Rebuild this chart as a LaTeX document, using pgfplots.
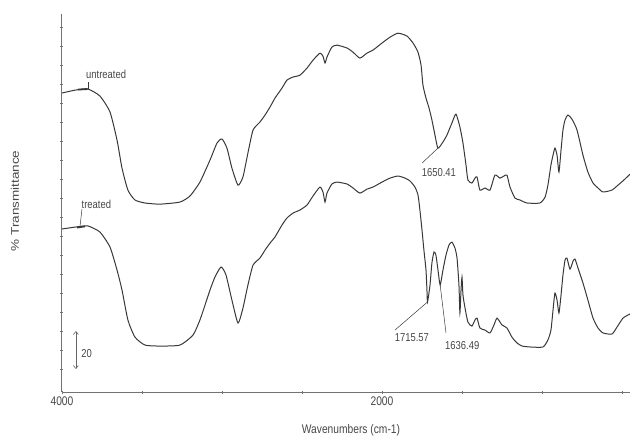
\documentclass[border=0pt]{standalone}
\usepackage{fontspec}
\setmainfont{Liberation Sans}
\usepackage{pgfplots}
\pgfplotsset{compat=1.18}
\usetikzlibrary{arrows.meta}
% narrow sans text, as set by the spectrometer software
\newcommand{\sq}[1]{\scalebox{0.82}[1]{#1}}
\newcommand{\ann}[1]{{\fontsize{11.5}{13}\selectfont\sq{#1}}}
\colorlet{txt}{black!72}
\colorlet{spec}{black!78}
\begin{document}
\begin{tikzpicture}
\path[use as bounding box] (0pt,0pt) rectangle (630pt,437pt);
\begin{axis}[
  at={(62pt,45pt)}, anchor=south west,
  scale only axis, width=568pt, height=378pt,
  xmin=450, xmax=4000, x dir=reverse,
  ymin=0, ymax=199,
  axis x line*=bottom, axis y line*=left,
  axis line style={black!55, line width=1pt},
  xtick={4000,3500,3000,2500,2000,1500,1000,500},
  xticklabels={\sq{4000},,,,\sq{2000},,,},
  ytick={12,22,...,192}, yticklabels={},
  tick align=center, major tick length=3pt,
  tick style={black!55, line width=0.6pt},
  ticklabel style={font=\fontsize{12.5}{14}\selectfont, text=txt},
  clip=false,
]
% untreated sample
\addplot[spec, line width=1pt, smooth, tension=0.35] coordinates {
(4000,157.4) (3919,158.9) (3838,159.5) (3763,155.8) (3700,147.4) (3656,132.6)
(3625,117.9) (3588,106.3) (3544,101.1) (3481,99.5) (3388,98.9) (3263,100.0)
(3200,103.2) (3138,110.5) (3075,122.1) (3031,131.1) (3000,133.2) (2969,128.4)
(2938,117.9) (2900,108.9) (2869,113.2) (2838,125.8) (2806,137.9) (2763,142.1)
(2731,145.8) (2700,150.0) (2669,154.7) (2625,160.0) (2594,164.2) (2556,165.8)
(2513,166.8) (2469,170.5) (2431,174.7) (2388,178.4) (2369,176.8) (2356,173.2)
(2344,176.3) (2313,181.6) (2281,182.6) (2219,181.1) (2181,178.9) (2138,175.8)
(2094,178.4) (2056,180.0) (2000,183.7) (1950,186.8) (1900,188.9) (1844,187.4)
(1806,183.7) (1775,178.9) (1756,172.1) (1744,161.6) (1725,154.7) (1706,149.5)
(1688,143.2) (1669,135.3) (1650.41,128.4) (1619,131.6) (1594,135.3) (1563,141.6)
(1538,146.3) (1513,139.5) (1494,131.1) (1475,119.5) (1463,111.6) (1438,110.0)
(1419,112.6) (1406,113.2) (1388,106.3) (1356,107.4) (1325,106.3) (1294,114.2)
(1263,112.6) (1238,113.7) (1219,114.2) (1200,107.9) (1169,102.1) (1138,101.1)
(1094,99.5) (1013,99.5) (981,102.6) (963,108.9) (944,119.5) (931,124.7)
(919,128.4) (906,124.7) (894,115.8) (881,127.4) (869,137.9) (856,143.2)
(838,145.8) (813,143.7) (781,137.9) (744,124.7) (713,115.8) (681,110.0)
(650,107.4) (619,105.3) (563,106.3) (525,108.9) (488,111.6) (450,114.7)
};
% treated sample
\addplot[spec, line width=1pt, smooth, tension=0.35] coordinates {
(4000,85.8) (3919,86.8) (3838,87.4) (3763,84.2) (3700,76.3) (3656,64.2)
(3625,53.7) (3588,37.9) (3544,28.9) (3481,24.7) (3388,24.2) (3263,24.7)
(3181,30.0) (3138,37.9) (3106,45.8) (3075,53.7) (3044,60.5) (3006,65.8)
(2975,61.6) (2938,48.4) (2900,36.3) (2869,44.2) (2838,56.3) (2806,66.8)
(2763,70.5) (2731,74.7) (2700,78.4) (2669,81.6) (2625,87.9) (2594,91.6)
(2556,94.2) (2513,95.8) (2469,98.4) (2431,103.2) (2388,107.9) (2369,105.3)
(2356,100.0) (2344,104.7) (2313,109.5) (2281,110.5) (2219,109.5) (2181,107.4)
(2138,104.7) (2094,106.8) (2056,107.9) (2000,110.5) (1950,112.6) (1900,113.7)
(1856,112.6) (1825,111.1) (1794,107.9) (1775,103.7) (1763,95.8) (1750,85.3)
(1738,74.7) (1725,64.2) (1719,53.7) (1715.57,47.4) (1700,56.3) (1688,67.9)
(1675,73.7) (1663,72.1) (1650,64.2) (1636.49,56.3) (1619,64.2) (1600,72.1)
(1581,77.4) (1563,78.9) (1544,75.8) (1531,70.5) (1519,56.3) (1513,41.6)
(1506,53.7) (1500,60.5) (1494,51.1) (1481,44.2) (1463,36.8) (1438,34.7)
(1419,37.9) (1406,38.9) (1388,33.7) (1356,32.6) (1325,31.1) (1300,35.3)
(1281,38.9) (1250,35.3) (1219,33.7) (1188,28.9) (1156,25.8) (1125,24.2)
(1075,23.7) (994,23.7) (963,27.4) (944,32.6) (931,43.2) (919,52.1)
(906,48.4) (894,41.6) (881,51.1) (869,61.6) (856,69.5) (844,70.5)
(825,64.7) (806,68.9) (794,70.0) (775,65.3) (744,57.4) (713,48.4)
(681,38.9) (650,33.7) (619,31.1) (563,30.5) (531,34.2) (494,38.9)
(463,40.5) (450,41.1)
};
% curve labels
\draw[spec, line width=0.5pt] (axis cs:3838,163.2) -- (axis cs:3838,159.5);
\draw[spec, line width=1.8pt] (axis cs:3900,159.2) -- (axis cs:3840,159.5);
\node[anchor=west, text=txt, inner sep=0pt] at (axis cs:3850,167) {\ann{untreated}};
\draw[spec, line width=0.5pt] (axis cs:3875,96.3) -- (axis cs:3888,86.8);
\draw[spec, line width=1.8pt] (axis cs:3906,86.6) -- (axis cs:3856,87.2);
\node[anchor=west, text=txt, inner sep=0pt] at (axis cs:3878,99) {\ann{treated}};
% peak picks
\draw[spec, line width=0.5pt] (axis cs:1750,120.5) -- (axis cs:1650.41,128.4);
\node[anchor=west, text=txt, inner sep=0pt] at (axis cs:1752,115.3) {\ann{1650.41}};
\draw[spec, line width=0.5pt] (axis cs:1919,32.6) -- (axis cs:1715.57,47.4);
\node[anchor=west, text=txt, inner sep=0pt] at (axis cs:1921,28.4) {\ann{1715.57}};
\draw[spec, line width=0.5pt] (axis cs:1600,31.1) -- (axis cs:1636.49,56.3);
\node[anchor=west, text=txt, inner sep=0pt] at (axis cs:1606,24.7) {\ann{1636.49}};
% scale bar: 20 %T
\draw[black!60, line width=0.6pt, {Straight Barb[length=3pt,width=5pt]}-{Straight Barb[length=3pt,width=5pt]}]
  (axis cs:3913,12.1) -- (axis cs:3913,32.1);
\node[anchor=west, text=txt, inner sep=0pt] at (axis cs:3880,20.5) {\ann{20}};
\end{axis}
\node[text=txt] at (351pt,7pt) {\fontsize{12.5}{14}\selectfont\sq{Wavenumbers (cm-1)}};
\node[text=txt, rotate=90] at (15pt,236pt) {\fontsize{13.5}{15}\selectfont\scalebox{1}[0.82]{\% Transmittance}};
\end{tikzpicture}
\end{document}
